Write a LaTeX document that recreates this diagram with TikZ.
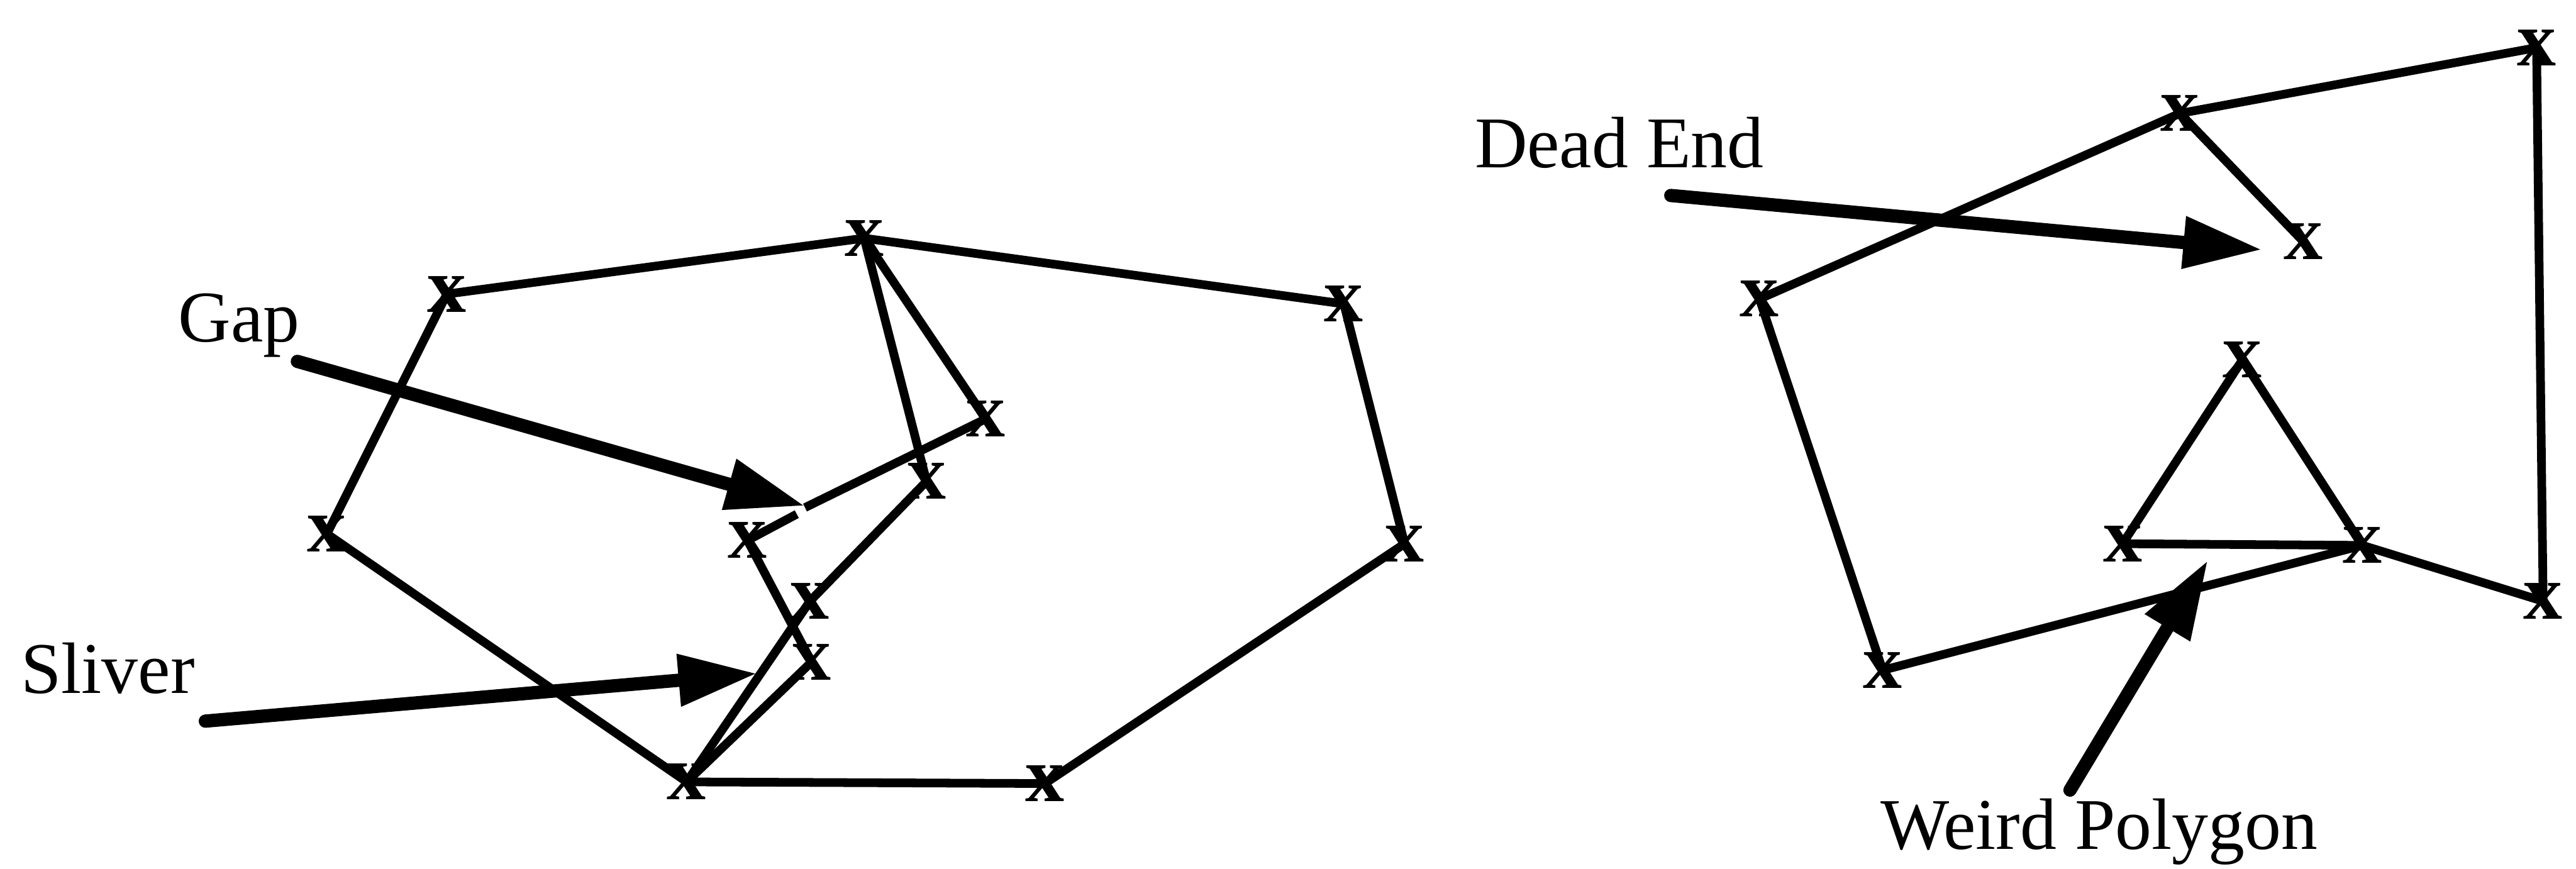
\documentclass[tikz,border=0pt]{standalone}
\usepackage{fontspec}
\setmainfont{Liberation Serif}
\usetikzlibrary{arrows.meta}

\begin{document}
\begin{tikzpicture}[x=0.01cm,y=-0.01cm,
  every node/.style={font=\fontsize{12.6}{15}\selectfont},
  vtx/.style={inner sep=0pt,font=\fontsize{13.5}{13.5}\selectfont\bfseries},
  seg/.style={line width=1.5pt,line join=round},
  pointer/.style={line width=2.3pt,line cap=round,-{Triangle[length=4.8mm,width=3mm]}},
  tag/.style={anchor=base west,inner sep=0pt}]
\useasboundingbox (0,0) rectangle (1568,529);
% left polygon
\node[vtx] (a) at (272,179) {x};
\node[vtx] (b) at (526,145) {x};
\node[vtx] (c) at (818,185) {x};
\node[vtx] (d) at (855,331) {x};
\node[vtx] (e) at (636,477) {x};
\node[vtx] (f) at (418,476) {x};
\node[vtx] (g) at (199,325) {x};
\node[vtx] (h) at (600,255) {x};
\node[vtx] (i) at (564,293) {x};
\node[vtx] (j) at (455,329) {x};
\node[vtx] (k) at (493,366) {x};
\node[vtx] (l) at (494,403) {x};
\coordinate (gapa) at (490,309);
\coordinate (gapb) at (485,313);
\draw[seg] (a.center) -- (b.center) -- (c.center) -- (d.center) -- (e.center)
  -- (f.center) -- (g.center) -- cycle;
\draw[seg] (b.center) -- (h.center) -- (gapa);
\draw[seg] (b.center) -- (i.center) -- (k.center) -- (f.center);
\draw[seg] (gapb) -- (j.center) -- (l.center) -- (f.center);
% right polygon
\node[vtx] (q1) at (1071,182) {x};
\node[vtx] (q2) at (1327,69) {x};
\node[vtx] (q3) at (1544,29) {x};
\node[vtx] (q4) at (1548,366) {x};
\node[vtx] (q5) at (1438,332) {x};
\node[vtx] (q6) at (1292,331) {x};
\node[vtx] (q7) at (1365,219) {x};
\node[vtx] (q8) at (1146,408) {x};
\node[vtx] (q9) at (1402,147) {x};
\draw[seg] (q1.center) -- (q2.center) -- (q3.center) -- (q4.center) -- (q5.center)
  -- (q8.center) -- cycle;
\draw[seg] (q2.center) -- (q9.center);
\draw[seg] (q6.center) -- (q7.center) -- (q5.center) -- cycle;
% labels and pointers
\node[tag] (gap) at (108,208) {Gap};
\node[tag] (sliver) at (12,422) {Sliver};
\node[tag] (dead) at (897,102) {Dead End};
\node[tag] (weird) at (1144,517) {Weird Polygon};
\coordinate (gaptail) at (181,220);
\coordinate (gaptip) at (490,308);
\coordinate (slivertail) at (125,439);
\coordinate (slivertip) at (461,410);
\coordinate (deadtail) at (1017,119);
\coordinate (deadtip) at (1377,152);
\coordinate (weirdtail) at (1260,481);
\coordinate (weirdtip) at (1344,341);
\draw[pointer] (gaptail) -- (gaptip);
\draw[pointer] (slivertail) -- (slivertip);
\draw[pointer] (deadtail) -- (deadtip);
\draw[pointer] (weirdtail) -- (weirdtip);
\end{tikzpicture}
\end{document}
